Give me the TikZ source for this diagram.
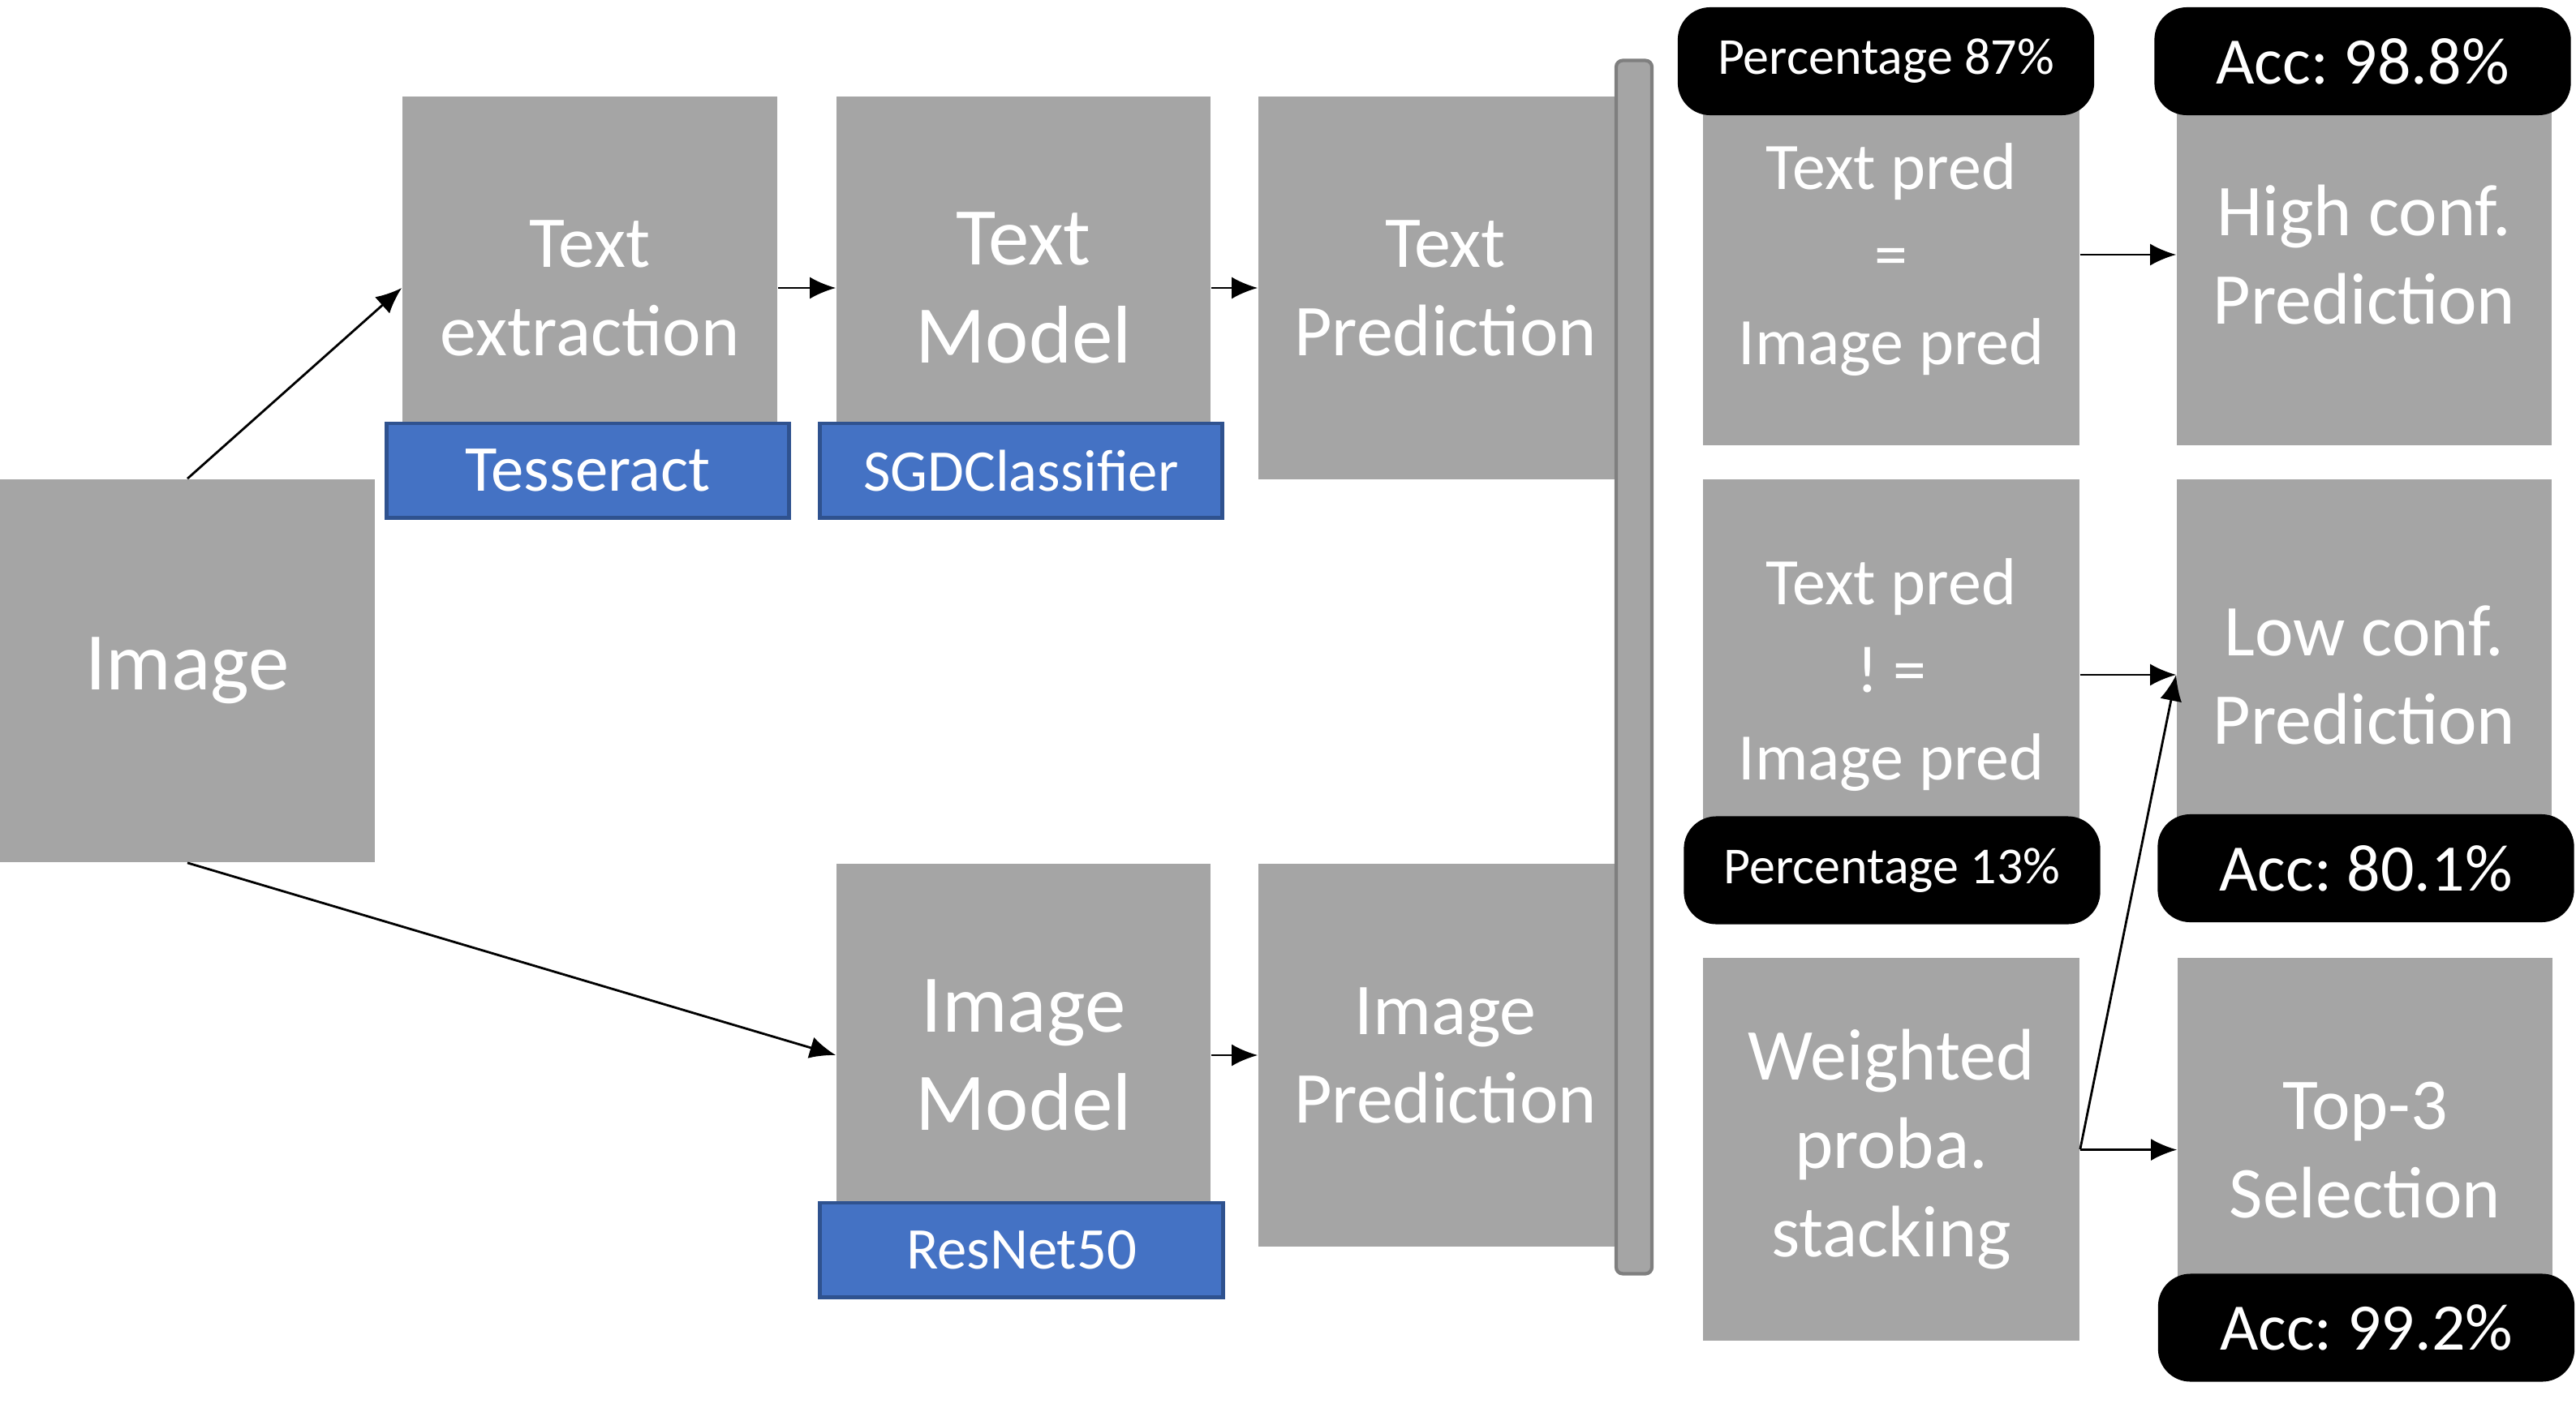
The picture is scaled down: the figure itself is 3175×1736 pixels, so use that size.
\documentclass[tikz,border=0pt]{standalone}
\usepackage{fontspec}
\setmainfont{Carlito}
\usetikzlibrary{arrows.meta}
\definecolor{boxgray}{HTML}{A5A5A5}
\definecolor{baredge}{HTML}{7F7F7F}
\definecolor{toolblue}{HTML}{4472C4}
\definecolor{tooledge}{HTML}{2F528F}
\frenchspacing
\begin{document}
\begin{tikzpicture}[
    x=0.01cm, y=-0.01cm,
    block/.style={rectangle, fill=boxgray, text=white, align=center, inner sep=0pt},
    tool/.style={rectangle, fill=toolblue, draw=tooledge, line width=1.4pt, text=white, inner sep=0pt, minimum width=4.96cm, minimum height=1.16cm},
    tag/.style={rectangle, rounded corners=0.4cm, fill=black, text=white, inner sep=0pt, minimum width=5.13cm, minimum height=1.33cm},
    big/.style={font=\fontsize{28.7}{34.4}\selectfont},
    mid/.style={font=\fontsize{25.6}{31}\selectfont},
    cond/.style={font=\fontsize{23.3}{30.7}\selectfont},
    arrow/.style={-{Latex[length=0.32cm,width=0.27cm]}, line width=0.8pt}
]
    \useasboundingbox (0,0) rectangle (3175,1736);
    % gray blocks
    \node[block, big, minimum width=4.62cm, minimum height=4.72cm] (img) at (231,827) {Image};
    \node[block, mid, minimum width=4.62cm, minimum height=4.72cm] (textext) at (727,355) {Text\\extraction};
    \node[block, big, minimum width=4.61cm, minimum height=4.72cm] (textmodel) at (1261.5,355) {Text\\Model};
    \node[block, mid, minimum width=4.61cm, minimum height=4.72cm] (textpred) at (1781.5,355) {Text\\Prediction};
    \node[block, big, minimum width=4.61cm, minimum height=4.72cm] (imgmodel) at (1261.5,1301) {Image\\Model};
    \node[block, mid, minimum width=4.61cm, minimum height=4.72cm] (imgpred) at (1781.5,1301) {Image\\Prediction};
    \node[block, cond, minimum width=4.64cm, minimum height=4.58cm] (eq) at (2331,320) {Text pred\\=\\Image pred};
    \node[block, mid, minimum width=4.62cm, minimum height=4.70cm] (high) at (2914,314) {High conf.\\Prediction};
    \node[block, cond, minimum width=4.64cm, minimum height=4.82cm] (neq) at (2331,832) {Text pred\\! =\\Image pred};
    \node[block, mid, minimum width=4.62cm, minimum height=4.82cm] (low) at (2914,832) {Low conf.\\Prediction};
    \node[block, mid, minimum width=4.64cm, minimum height=4.72cm] (weighted) at (2331,1417) {Weighted\\proba.\\stacking};
    \node[block, mid, minimum width=4.62cm, minimum height=4.74cm] (top3) at (2915,1418) {Top-3\\Selection};
    % merge bar
    \node[rectangle, rounded corners=0.08cm, fill=boxgray, draw=baredge, line width=1.2pt, minimum width=0.44cm, minimum height=14.95cm, inner sep=0pt] (bar) at (2014,822.5) {};
    % tools
    \node[tool, font=\fontsize{23}{27}\selectfont] (tess) at (724.5,580) {Tesseract};
    \node[tool, font=\fontsize{20.7}{25}\selectfont] (sgd) at (1258.5,580) {SGDClassifier};
    \node[tool, font=\fontsize{20.7}{25}\selectfont] (resnet) at (1259,1541) {ResNet50};
    % tags
    \node[tag, font=\fontsize{18.2}{22}\selectfont] (pcthigh) at (2324.5,75.5) {Percentage 87\%};
    \node[tag, font=\fontsize{23.3}{28}\selectfont] (acchigh) at (2912,75.5) {Acc: 98.8\%};
    \node[tag, font=\fontsize{18.2}{22}\selectfont] (pctlow) at (2332,1073) {Percentage 13\%};
    \node[tag, font=\fontsize{23.3}{28}\selectfont] (acclow) at (2916,1070.5) {Acc: 80.1\%};
    \node[tag, font=\fontsize{23.3}{28}\selectfont] (acctop) at (2916.5,1637) {Acc: 99.2\%};
    % arrows
    \draw[arrow] (img.north) -- (textext.west);
    \draw[arrow] (img.south) -- (imgmodel.west);
    \draw[arrow] (textext) -- (textmodel);
    \draw[arrow] (textmodel) -- (textpred);
    \draw[arrow] (imgmodel) -- (imgpred);
    \draw[arrow] (high.west -| eq.east) -- (high.west);
    \draw[arrow] (neq) -- (low);
    \draw[arrow] (weighted) -- (top3);
    \draw[arrow] (weighted.east) -- (low.west);
\end{tikzpicture}
\end{document}
